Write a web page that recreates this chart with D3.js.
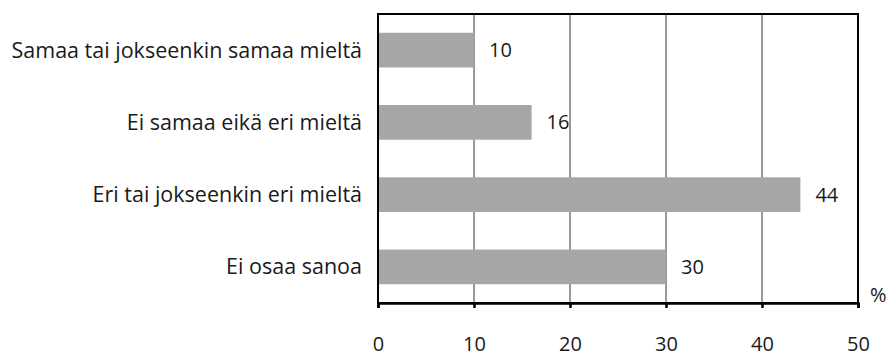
<!DOCTYPE html>
<html lang="fi">
<head>
    <meta charset="UTF-8">
    <title>Mielipiteet</title>
    <script src="https://d3js.org/d3.v7.min.js"></script>
    <style>
        body { margin: 0; background: #fff; }
        text { font-family: "Open Sans", sans-serif; fill: #1a1a1a; }
    </style>
</head>
<body>
<script>
    // data
    categories = ["Samaa tai jokseenkin samaa mieltä", "Ei samaa eikä eri mieltä", "Eri tai jokseenkin eri mieltä", "Ei osaa sanoa"]
    values = [10, 16, 44, 30]
    xTicks = [0, 10, 20, 30, 40, 50]
    unitLabel = "%"

    // chart dimensions
    w = 886
    h = 356
    margin = {top: 14, right: 28, bottom: 53, left: 378}
    width = w - margin.left - margin.right
    height = h - margin.top - margin.bottom

    svg = d3.select("body")
        .append("svg")
        .attr("width", w)
        .attr("height", h)
        .append("g")
        .attr("transform", "translate(" + margin.left + "," + margin.top + ")")

    x = d3.scaleLinear()
        .domain([0, 50])
        .range([0, width])

    y = d3.scaleBand()
        .domain(categories)
        .range([0, height])
        .paddingInner(0.52)
        .paddingOuter(0.26)

    // gridlines
    svg.selectAll("line.grid")
        .data(xTicks.slice(1, -1))
        .enter()
        .append("line")
        .attr("class", "grid")
        .attr("x1", (d) => x(d))
        .attr("x2", (d) => x(d))
        .attr("y1", 0)
        .attr("y2", height)
        .attr("stroke", "#999")
        .attr("stroke-width", 2)

    // bars
    svg.selectAll("rect.bar")
        .data(values)
        .enter()
        .append("rect")
        .attr("class", "bar")
        .attr("x", 0)
        .attr("y", (d, i) => y(categories[i]))
        .attr("width", (d) => x(d))
        .attr("height", y.bandwidth())
        .attr("fill", "#a6a6a6")

    // value labels
    svg.selectAll("text.val")
        .data(values)
        .enter()
        .append("text")
        .attr("class", "val")
        .attr("x", (d) => x(d) + 15)
        .attr("y", (d, i) => y(categories[i]) + y.bandwidth() / 2)
        .attr("dy", "0.35em")
        .attr("font-size", 20)
        .text((d) => d)

    // frame
    svg.append("rect")
        .attr("x", 0)
        .attr("y", 0)
        .attr("width", width)
        .attr("height", height)
        .attr("fill", "none")
        .attr("stroke", "#000")
        .attr("stroke-width", 2)

    // x axis
    xAxis = svg.append("g")
        .attr("transform", "translate(0," + height + ")")
        .call(d3.axisBottom(x).tickValues(xTicks).tickSize(5).tickPadding(29).tickFormat(d3.format("d")))
    xAxis.select(".domain").attr("stroke-width", 2.5).attr("stroke", "#000")
    xAxis.selectAll(".tick line").attr("stroke-width", 2.5).attr("stroke", "#000")
    xAxis.selectAll(".tick text").attr("font-size", 20).attr("font-family", "Open Sans, sans-serif").attr("fill", "#1a1a1a")

    // category labels
    svg.selectAll("text.cat")
        .data(categories)
        .enter()
        .append("text")
        .attr("class", "cat")
        .attr("x", -16)
        .attr("y", (d) => y(d) + y.bandwidth() / 2)
        .attr("dy", "0.35em")
        .attr("text-anchor", "end")
        .attr("font-size", 21.5)
        .text((d) => d)

    // unit
    svg.append("text")
        .attr("x", width + 12)
        .attr("y", height - 1)
        .attr("font-size", 20)
        .text(unitLabel)
</script>
</body>
</html>
